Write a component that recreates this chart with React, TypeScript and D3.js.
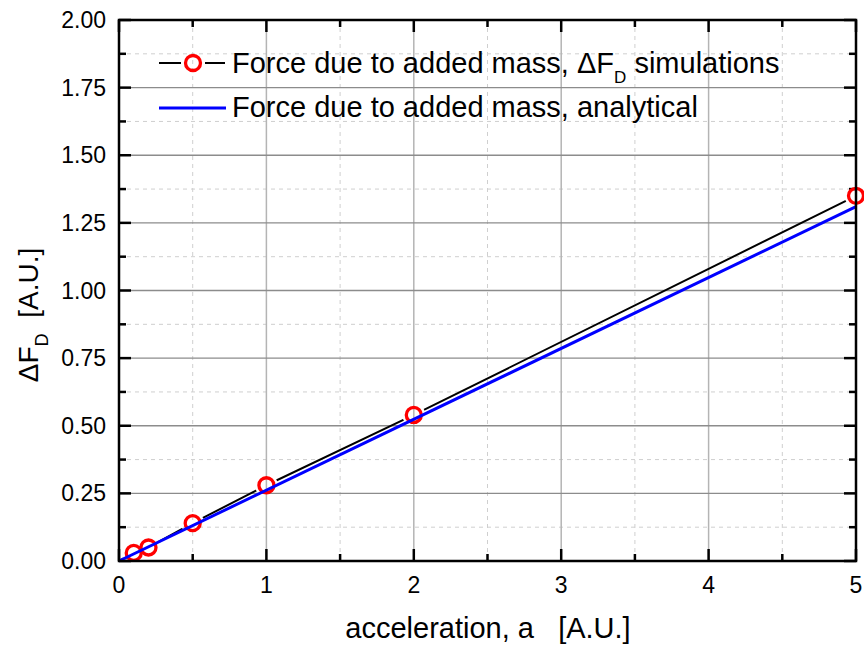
import React from "react";
import * as d3 from "d3";

const simX = [0.1, 0.2, 0.5, 1, 2, 5];
const simY = [0.03, 0.05, 0.14, 0.28, 0.54, 1.35];
const simLineX = [0, 0.1, 0.2, 0.5, 1, 2, 5];
const simLineY = [0, 0.03, 0.05, 0.14, 0.28, 0.54, 1.35];
const anaX = [0, 5];
const anaY = [0, 1.31];
const xTicks = [0, 1, 2, 3, 4, 5];
const yTicks = [0, 0.25, 0.5, 0.75, 1.0, 1.25, 1.5, 1.75, 2.0];
const xMinor = [0.5, 1.5, 2.5, 3.5, 4.5];
const yMinor = [0.125, 0.375, 0.625, 0.875, 1.125, 1.375, 1.625, 1.875];
const legendLabels = ["Force due to added mass, ", "Force due to added mass, analytical"];

const W = 864, H = 649;
const L = 119, R = 856, T = 20, B = 561;
const FONT = "'Liberation Sans', Arial, sans-serif";
const MR = 7.5;

export default function App() {
  const x = d3.scaleLinear().domain([0, 5]).range([L, R]);
  const y = d3.scaleLinear().domain([0, 2]).range([B, T]);
  const line = d3.line<[number, number]>().x(d => x(d[0])).y(d => y(d[1]));
  const simPts: [number, number][] = simLineX.map((v, i) => [v, simLineY[i]]);
  const anaPts: [number, number][] = anaX.map((v, i) => [v, anaY[i]]);

  return (
    <svg width={W} height={H} style={{ position: "absolute", left: 0, top: 0, background: "#fff" }} fontFamily={FONT}>
      <defs>
        <mask id="gapMask" maskUnits="userSpaceOnUse" x={0} y={0} width={W} height={H}>
          <rect x={0} y={0} width={W} height={H} fill="#fff" />
          {simX.map((v, i) => (
            <circle key={"m" + i} cx={x(v)} cy={y(simY[i])} r={MR + 4} fill="#000" />
          ))}
        </mask>
      </defs>
      <rect x={0} y={0} width={W} height={H} fill="#fff" />
      {/* minor grid */}
      {xMinor.map(v => (
        <line key={"xm" + v} x1={x(v)} x2={x(v)} y1={T} y2={B} stroke="#cfcfcf" strokeWidth={1} strokeDasharray="4,4" />
      ))}
      {yMinor.map(v => (
        <line key={"ym" + v} x1={L} x2={R} y1={y(v)} y2={y(v)} stroke="#cfcfcf" strokeWidth={1} strokeDasharray="4,4" />
      ))}
      {/* major grid */}
      {xTicks.slice(1, -1).map(v => (
        <line key={"xg" + v} x1={x(v)} x2={x(v)} y1={T} y2={B} stroke="#b4b4b4" strokeWidth={1.5} />
      ))}
      {yTicks.slice(1, -1).map(v => (
        <line key={"yg" + v} x1={L} x2={R} y1={y(v)} y2={y(v)} stroke="#8c8c8c" strokeWidth={1.3} />
      ))}
      {/* ticks */}
      {xTicks.map(v => (
        <g key={"xt" + v}>
          <line x1={x(v)} x2={x(v)} y1={B} y2={B - 12} stroke="#000" strokeWidth={2.5} />
          <line x1={x(v)} x2={x(v)} y1={T} y2={T + 12} stroke="#000" strokeWidth={2.5} />
          <text x={x(v)} y={593} fontSize={23} textAnchor="middle" fill="#000">{v}</text>
        </g>
      ))}
      {xMinor.map(v => (
        <g key={"xmt" + v}>
          <line x1={x(v)} x2={x(v)} y1={B} y2={B - 7} stroke="#000" strokeWidth={2.5} />
          <line x1={x(v)} x2={x(v)} y1={T} y2={T + 7} stroke="#000" strokeWidth={2.5} />
        </g>
      ))}
      {yTicks.map(v => (
        <g key={"yt" + v}>
          <line x1={L} x2={L + 12} y1={y(v)} y2={y(v)} stroke="#000" strokeWidth={2.5} />
          <line x1={R} x2={R - 12} y1={y(v)} y2={y(v)} stroke="#000" strokeWidth={2.5} />
          <text x={106} y={y(v) + 8} fontSize={23} textAnchor="end" fill="#000">{v.toFixed(2)}</text>
        </g>
      ))}
      {yMinor.map(v => (
        <g key={"ymt" + v}>
          <line x1={L} x2={L + 7} y1={y(v)} y2={y(v)} stroke="#000" strokeWidth={2.5} />
          <line x1={R} x2={R - 7} y1={y(v)} y2={y(v)} stroke="#000" strokeWidth={2.5} />
        </g>
      ))}
      {/* data */}
      <path d={line(simPts) || ""} fill="none" stroke="#000" strokeWidth={2} mask="url(#gapMask)" />
      {simX.map((v, i) => (
        <circle key={"c" + i} cx={x(v)} cy={y(simY[i])} r={MR} fill="none" stroke="#ff0000" strokeWidth={3.3} />
      ))}
      <path d={line(anaPts) || ""} fill="none" stroke="#0000ff" strokeWidth={3} />
      {/* frame */}
      <rect x={L} y={T} width={R - L} height={B - T} fill="none" stroke="#000" strokeWidth={2.5} />
      {/* legend */}
      <line x1={159} x2={181} y1={63} y2={63} stroke="#000" strokeWidth={2} />
      <line x1={205} x2={225} y1={63} y2={63} stroke="#000" strokeWidth={2} />
      <circle cx={193} cy={63} r={MR} fill="none" stroke="#ff0000" strokeWidth={3.3} />
      <text x={232} y={73} fontSize={29} fill="#000" style={{ whiteSpace: "pre" }}>
        {legendLabels[0]}ΔF<tspan fontSize={17} dy={10}>D</tspan><tspan dy={-10}> simulations</tspan>
      </text>
      <line x1={159} x2={226} y1={108} y2={108} stroke="#0000ff" strokeWidth={3} />
      <text x={232} y={117} fontSize={29} fill="#000">{legendLabels[1]}</text>
      {/* axis titles */}
      <text x={488} y={638} fontSize={29} textAnchor="middle" fill="#000" style={{ whiteSpace: "pre" }}>
        {"acceleration, a   [A.U.]"}
      </text>
      <text transform="translate(38,315) rotate(-90)" fontSize={28} textAnchor="middle" fill="#000" style={{ whiteSpace: "pre" }}>
        ΔF<tspan fontSize={18} dy={10}>D</tspan><tspan dy={-10}>{"  [A.U.]"}</tspan>
      </text>
    </svg>
  );
}
